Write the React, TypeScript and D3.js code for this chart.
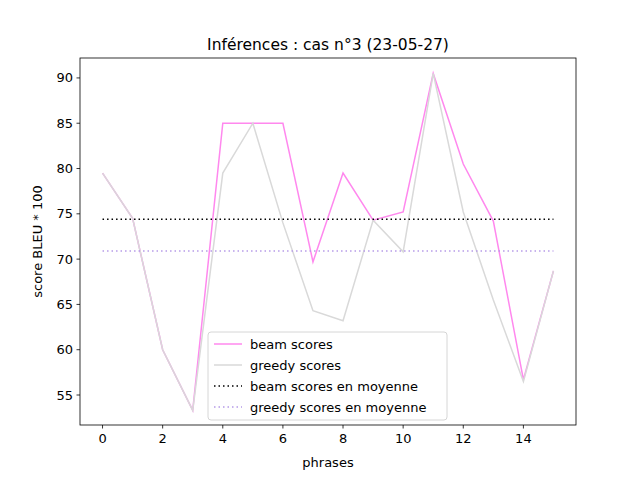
import * as d3 from 'd3'

const phrases = d3.range(16)
const beamScores = [79.5, 74.5, 60, 53.3, 85, 85, 85, 69.7, 79.5, 74.3, 75.2, 90.5, 80.5, 74.2, 56.7, 68.7]
const greedyScores = [79.5, 74.5, 60, 53.3, 79.5, 85, 74, 64.3, 63.2, 74.3, 70.8, 90.5, 75.2, 65.5, 56.5, 68.7]
const beamMean = 74.4
const greedyMean = 70.9
const xTicks = [0, 2, 4, 6, 8, 10, 12, 14]
const yTicks = [55, 60, 65, 70, 75, 80, 85, 90]

const W = 640
const H = 480
const L = 80, R = 576, T = 58, B = 425

export default function App() {
  const x = d3.scaleLinear([-0.75, 15.75], [L, R])
  const y = d3.scaleLinear([51.69, 92.2], [B, T])
  const line = d3.line<number>((_, i) => x(phrases[i]), (d) => y(d))
  const font = 'DejaVu Sans, sans-serif'
  const legend = [
    { label: 'beam scores', color: '#ff88ee', dash: '' },
    { label: 'greedy scores', color: '#d9d9d9', dash: '' },
    { label: 'beam scores en moyenne', color: '#000', dash: '1.5,3' },
    { label: 'greedy scores en moyenne', color: '#b59ae8', dash: '1.5,3' },
  ]
  return (
    <svg width={W} height={H} style={{ display: 'block', margin: -8 }} fontFamily={font}>
      <rect width={W} height={H} fill="#fff" />
      <path d={line(beamScores)!} fill="none" stroke="#ff88ee" strokeWidth={1.5} />
      <path d={line(greedyScores)!} fill="none" stroke="#d9d9d9" strokeWidth={1.5} />
      <line x1={x(0)} x2={x(15)} y1={y(beamMean)} y2={y(beamMean)} stroke="#000" strokeWidth={1.5} strokeDasharray="1.5,3" />
      <line x1={x(0)} x2={x(15)} y1={y(greedyMean)} y2={y(greedyMean)} stroke="#b59ae8" strokeWidth={1.5} strokeDasharray="1.5,3" />
      <rect x={L} y={T} width={R - L} height={B - T} fill="none" stroke="#000" strokeWidth={0.8} />
      {xTicks.map((t) => (
        <g key={t}>
          <line x1={x(t)} x2={x(t)} y1={B} y2={B + 3.5} stroke="#000" strokeWidth={0.8} />
          <text x={x(t)} y={B + 18} fontSize={13} textAnchor="middle">{t}</text>
        </g>
      ))}
      {yTicks.map((t) => (
        <g key={t}>
          <line x1={L - 3.5} x2={L} y1={y(t)} y2={y(t)} stroke="#000" strokeWidth={0.8} />
          <text x={L - 7} y={y(t) + 4.5} fontSize={13} textAnchor="end">{t}</text>
        </g>
      ))}
      <text x={(L + R) / 2} y={467} fontSize={13} textAnchor="middle">phrases</text>
      <text transform={`translate(42,${(T + B) / 2}) rotate(-90)`} fontSize={13} textAnchor="middle">score BLEU * 100</text>
      <text x={(L + R) / 2} y={50} fontSize={15.5} textAnchor="middle">Inférences : cas n°3 (23-05-27)</text>
      <rect x={208} y={332} width={239} height={88} rx={3} fill="#fff" fillOpacity={0.8} stroke="#ccc" strokeWidth={0.8} />
      {legend.map((d, i) => (
        <g key={d.label} transform={`translate(214,${344 + i * 21})`}>
          <line x1={0} x2={28} stroke={d.color} strokeWidth={1.5} strokeDasharray={d.dash} />
          <text x={36} y={4.5} fontSize={13}>{d.label}</text>
        </g>
      ))}
    </svg>
  )
}
